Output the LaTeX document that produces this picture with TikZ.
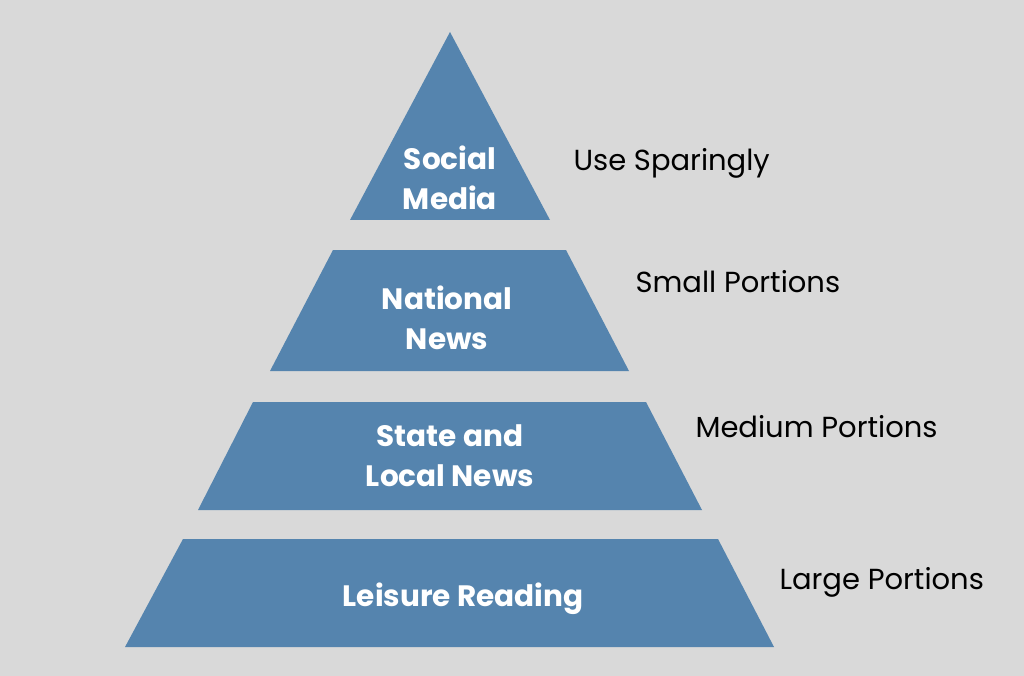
\documentclass[tikz,border=0pt]{standalone}
\usepackage{fontspec}
\setmainfont{Poppins}
\usepackage{xcolor}
\usetikzlibrary{positioning}
\definecolor{tierblue}{HTML}{5584AE}
\definecolor{bggray}{HTML}{D9D9D9}

\begin{document}
\begin{tikzpicture}[x=1pt, y=-1pt,
		tier/.style={fill=tierblue},
		tiertext/.style={text=white, font=\bfseries\fontsize{29.5}{40}\selectfont, align=center},
		portion/.style={anchor=base west, font=\fontsize{29}{32}\selectfont}]
		\fill[bggray] (0,0) rectangle (1024,676);
		\useasboundingbox (0,0) rectangle (1024,676);

		% pyramid tiers
		\fill[tier] (450,32) -- (550,220) -- (350,220) -- cycle;
		\fill[tier] (333,250) -- (566,250) -- (629,371) -- (270,371) -- cycle;
		\fill[tier] (253,402) -- (646,402) -- (702,510) -- (198,510) -- cycle;
		\fill[tier] (183,539) -- (718,539) -- (774,647) -- (125,647) -- cycle;

		\node[tiertext] (social) at (450,178) {Social\\Media};
		\node[tiertext] (national) at (447,318) {National\\News};
		\node[tiertext] (state) at (450,456) {State and\\Local News};
		\node[tiertext] (leisure) at (463,599) {Leisure Reading};

		% portion labels
		\node[portion] (sparingly) at (570,171) {Use Sparingly};
		\node[portion] (small) at (632,292) {Small Portions};
		\node[portion] (medium) at (692,437) {Medium Portions};
		\node[portion] (large) at (776,589) {Large Portions};
	\end{tikzpicture}
\end{document}
